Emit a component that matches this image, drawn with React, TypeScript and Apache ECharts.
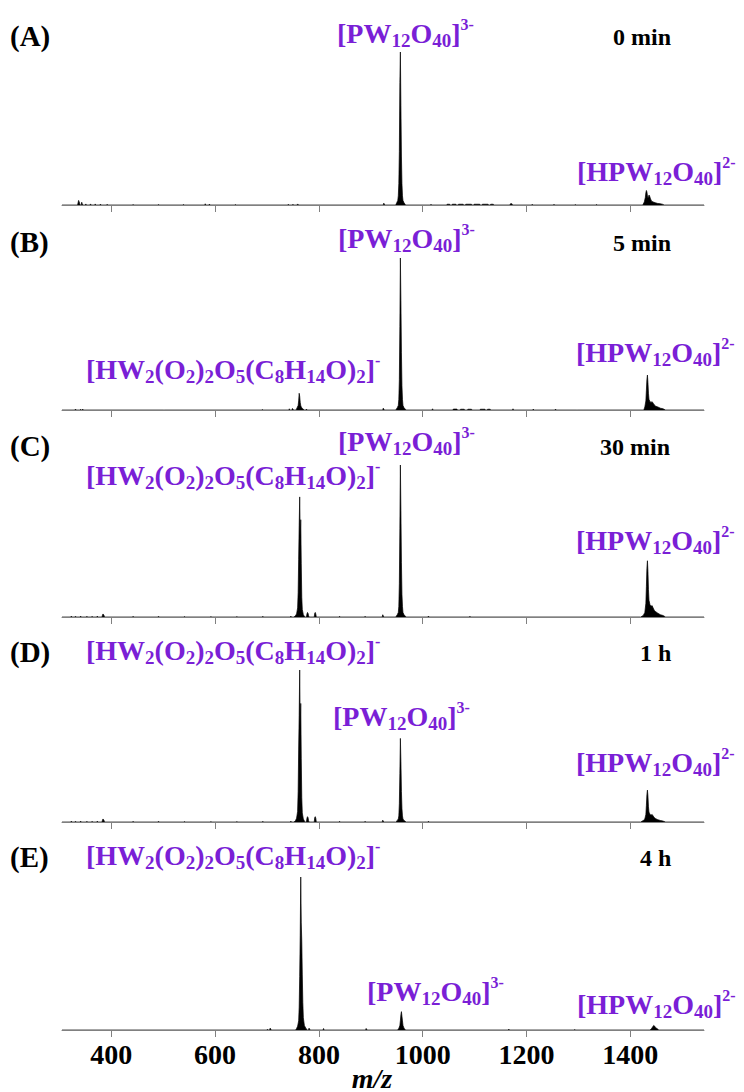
import React, { useEffect, useRef } from "react";
import * as echarts from "echarts";

const xMin = 305;
const xMax = 1542;
const tickValues = [400, 600, 800, 1000, 1200, 1400];

const panelLetters = ["(A)", "(B)", "(C)", "(D)", "(E)"];
const panelTimes = ["0 min", "5 min", "30 min", "1 h", "4 h"];

const specA: [number, number][] = [
  [305, 0],
  [335, 0], [336, 1.5], [337, 3], [338, 2.2], [339, 1], [340, 0],
  [342, 0], [343, 1.8], [344, 0.8], [345, 0],
  [350, 0], [351, 0.7], [352, 0],
  [359, 0], [360, 0.7], [361, 0],
  [368, 0], [369, 0.7], [370, 0],
  [378, 0], [379, 0.6], [380, 0],
  [391, 0], [392, 0.5], [393, 0],
  [441, 0], [442, 0.4], [443, 0],
  [490, 0], [491, 0.4], [492, 0],
  [538, 0], [539, 0.4], [540, 0],
  [580, 0], [581, 0.8], [582, 0], [588, 0], [589, 0.6], [590, 0],
  [638, 0], [639, 0.4], [640, 0],
  [740, 0], [741, 0.5], [742, 0], [749, 0], [750, 0.5], [751, 0], [758, 0], [759, 0.7], [760, 0.7], [761, 0],
  [924, 0], [925, 1.2], [926, 1.5], [927, 0],
  [948, 0], [950, 1.5], [952, 3], [953, 6], [954, 14], [955, 35], [956, 80], [957, 100], [958, 65], [959, 32], [960, 14], [961, 6], [962, 3], [964, 1.5], [967, 0],
  [1015, 0], [1016, 0.5], [1017, 0],
  [1046, 0], [1047, 0.5], [1052, 0.5], [1053, 0], [1056, 0], [1057, 0.5], [1064, 0.5], [1065, 0],
  [1068, 0], [1069, 0.5], [1078, 0.5], [1079, 0], [1082, 0], [1083, 0.5], [1094, 0.5], [1095, 0],
  [1098, 0], [1099, 0.5], [1110, 0.5], [1111, 0], [1114, 0], [1115, 0.5], [1126, 0.5], [1127, 0],
  [1130, 0], [1131, 0.5], [1136, 0.5], [1137, 0],
  [1168, 0], [1169, 0.8], [1172, 0.8], [1173, 0],
  [1210, 0], [1211, 0.5], [1212, 0],
  [1252, 0], [1253, 0.5], [1254, 0],
  [1293, 0], [1294, 0.4], [1295, 0],
  [1334, 0], [1335, 0.4], [1336, 0],
  [1424, 0], [1427, 2], [1429, 5], [1430, 8], [1431, 9.5], [1432, 8.5], [1433, 6], [1434, 4.5], [1435, 5], [1436, 6.5], [1437, 6], [1439, 4], [1441, 2.5], [1444, 2], [1448, 1.5], [1453, 1], [1458, 0.8], [1463, 0.4], [1465, 0],
  [1542, 0],
];

const specB: [number, number][] = [
  [305, 0],
  [330, 0], [331, 0.6], [332, 0], [340, 0], [341, 0.5], [342, 0],
  [344, 0], [345, 0.6], [346, 0],
  [500, 0], [501, 0.3], [502, 0],
  [690, 0], [691, 0.4], [692, 0],
  [742, 0], [743, 0.8], [744, 0], [748, 0], [749, 1], [750, 0.6], [751, 0],
  [756, 0], [758, 1.5], [760, 3], [761, 6], [762, 11], [763, 9], [764, 5], [765, 3], [766, 2], [768, 1], [770, 0.6], [771, 0],
  [775, 0], [776, 0.6], [777, 0],
  [923, 0], [924, 1.2], [925, 1.5], [926, 0],
  [948, 0], [951, 1.5], [953, 3], [954, 7], [955, 20], [956, 55], [957, 100], [958, 72], [959, 38], [960, 16], [961, 7], [962, 3], [964, 1.5], [968, 0],
  [1018, 0], [1019, 0.8], [1020, 0],
  [1058, 0], [1059, 0.6], [1066, 0.6], [1067, 0], [1072, 0], [1073, 0.5], [1080, 0.5], [1081, 0], [1086, 0], [1087, 0.5], [1094, 0.5], [1095, 0],
  [1110, 0], [1111, 0.5], [1120, 0.5], [1121, 0], [1124, 0], [1125, 0.5], [1130, 0.5], [1131, 0],
  [1173, 0], [1174, 0.8], [1175, 0],
  [1212, 0], [1213, 0.6], [1214, 0],
  [1255, 0], [1256, 0.6], [1257, 0],
  [1297, 0], [1298, 0.3], [1299, 0],
  [1426, 0], [1428, 2], [1430, 6], [1431, 13], [1432, 20], [1433, 23], [1434, 18], [1435, 11], [1436, 7], [1438, 5.5], [1440, 5], [1442, 5.5], [1444, 4.5], [1446, 3.5], [1449, 2.5], [1453, 2], [1458, 1.2], [1463, 0.8], [1468, 0],
  [1542, 0],
];

const specC: [number, number][] = [
  [305, 0],
  [322, 0], [323, 0.6], [324, 0], [330, 0], [331, 0.5], [332, 0], [340, 0], [341, 0.6], [342, 0], [352, 0], [353, 0.5], [354, 0], [362, 0], [363, 0.5], [364, 0], [372, 0], [373, 0.6], [374, 0],
  [382, 0], [383, 1.2], [384, 2], [385, 2.2], [386, 1], [387, 0],
  [441, 0], [442, 0.5], [443, 0], [490, 0], [491, 0.5], [492, 0], [540, 0], [541, 0.4], [542, 0], [591, 0], [592, 0.4], [593, 0], [641, 0], [642, 0.4], [643, 0], [691, 0], [692, 0.5], [693, 0],
  [745, 0], [746, 0.6], [747, 0],
  [752, 0], [755, 1], [757, 2], [759, 6], [760, 16], [761, 38], [762, 60], [763, 79], [764, 52], [765, 64], [766, 35], [767, 13], [768, 5], [770, 1.5], [773, 0],
  [776, 0], [777, 2], [778, 3], [779, 2.5], [780, 1], [781, 0],
  [791, 0], [792, 2.5], [793, 3], [794, 2], [795, 0],
  [839, 0], [840, 0.5], [841, 0],
  [888, 0], [889, 0.5], [890, 0],
  [922, 0], [923, 1.5], [924, 1.8], [925, 0],
  [948, 0], [951, 1.5], [953, 3], [954, 7], [955, 22], [956, 58], [957, 100], [958, 70], [959, 36], [960, 15], [961, 7], [962, 3], [964, 1.5], [968, 0],
  [1010, 0], [1011, 0.6], [1012, 0],
  [1090, 0], [1091, 0.5], [1092, 0],
  [1420, 0], [1425, 1], [1428, 3], [1430, 9], [1431, 20], [1432, 32], [1433, 37], [1434, 30], [1435, 18], [1436, 11], [1438, 8], [1440, 7], [1442, 7.5], [1444, 6], [1446, 4.5], [1449, 3.5], [1453, 2.5], [1458, 1.5], [1463, 1], [1468, 0],
  [1542, 0],
];

const specD: [number, number][] = [
  [305, 0],
  [322, 0], [323, 0.6], [324, 0], [330, 0], [331, 0.5], [332, 0], [340, 0], [341, 0.6], [342, 0], [352, 0], [353, 0.5], [354, 0], [362, 0], [363, 0.5], [364, 0], [372, 0], [373, 0.6], [374, 0],
  [382, 0], [383, 1.2], [384, 2], [385, 2.2], [386, 1], [387, 0],
  [441, 0], [442, 0.5], [443, 0], [490, 0], [491, 0.5], [492, 0], [540, 0], [541, 0.4], [542, 0], [591, 0], [592, 0.4], [593, 0], [641, 0], [642, 0.4], [643, 0], [691, 0], [692, 0.5], [693, 0],
  [745, 0], [746, 0.6], [747, 0],
  [752, 0], [755, 1], [757, 2.5], [759, 7], [760, 20], [761, 48], [762, 70], [763, 100], [764, 62], [765, 78], [766, 42], [767, 16], [768, 6], [770, 2], [773, 0],
  [776, 0], [777, 2.5], [778, 3.5], [779, 3], [780, 1], [781, 0],
  [791, 0], [792, 3], [793, 3.5], [794, 2.5], [795, 0],
  [839, 0], [840, 0.5], [841, 0],
  [888, 0], [889, 0.5], [890, 0],
  [922, 0], [923, 1.2], [924, 1.5], [925, 0],
  [948, 0], [951, 1], [953, 2], [954, 4], [955, 12], [956, 32], [957, 55], [958, 40], [959, 20], [960, 9], [961, 4], [962, 2], [964, 1], [968, 0],
  [1010, 0], [1011, 0.5], [1012, 0],
  [1420, 0], [1425, 1], [1428, 2], [1430, 5], [1431, 11], [1432, 18], [1433, 21], [1434, 17], [1435, 10], [1436, 6.5], [1438, 5], [1440, 4.5], [1442, 5], [1444, 4], [1446, 3], [1449, 2.2], [1453, 1.5], [1458, 1], [1463, 0.6], [1468, 0],
  [1542, 0],
];

const specE: [number, number][] = [
  [305, 0],
  [700, 0], [701, 0.5], [702, 0], [705, 0], [706, 1.2], [707, 0.8], [708, 0],
  [755, 0], [757, 1], [759, 2.5], [761, 6], [762, 15], [763, 35], [764, 62], [765, 100], [766, 70], [767, 58], [768, 36], [769, 18], [770, 8], [772, 3], [775, 1], [778, 0],
  [780, 0], [781, 1.2], [782, 1.5], [783, 0],
  [808, 0], [809, 1], [810, 0],
  [890, 0], [891, 1], [892, 1.2], [893, 0],
  [951, 0], [954, 1], [956, 3], [957, 6], [958, 10], [959, 12], [960, 9], [961, 6], [962, 3], [964, 1.2], [967, 0],
  [1165, 0], [1166, 0.6], [1167, 0],
  [1292, 0], [1293, 0.4], [1294, 0],
  [1438, 0], [1441, 1], [1443, 2], [1445, 3], [1447, 2.5], [1449, 1.5], [1452, 0.8], [1455, 0],
  [1542, 0],
];

const spectra = [specA, specB, specC, specD, specE];

// layout (pixels)
const gridTops = [52, 258, 465, 670, 877];
const gridBottoms = [205, 410, 617, 822, 1030];

const PURPLE = "#7a1fd6";
const SERIF = "Liberation Serif";

const PW_TEXT = "{m|[PW}{s|12}{m|O}{s|40}{m|]}{p|3-}";
const HPW_TEXT = "{m|[HPW}{s|12}{m|O}{s|40}{m|]}{p|2-}";
const HW_TEXT =
  "{m|[HW}{s|2}{m|(O}{s|2}{m|)}{s|2}{m|O}{s|5}{m|(C}{s|8}{m|H}{s|14}{m|O)}{s|2}{m|]}{p|-}";

const rich = {
  m: { fontSize: 28, fontWeight: "bold", fontFamily: SERIF, fill: PURPLE, color: PURPLE, lineHeight: 30 },
  s: { fontSize: 19, fontWeight: "bold", fontFamily: SERIF, fill: PURPLE, color: PURPLE, lineHeight: 34, verticalAlign: "bottom" },
  p: { fontSize: 16, fontWeight: "bold", fontFamily: SERIF, fill: PURPLE, color: PURPLE, lineHeight: 18, verticalAlign: "top" },
};

// [text, left x, center y]
const formulaLabels: [string, number, number][] = [
  [PW_TEXT, 337, 33],
  [HPW_TEXT, 577, 171],
  [PW_TEXT, 338, 238],
  [HW_TEXT, 86, 369],
  [HPW_TEXT, 576, 352],
  [PW_TEXT, 338, 441],
  [HW_TEXT, 86, 475],
  [HPW_TEXT, 576, 540],
  [HW_TEXT, 86, 650],
  [PW_TEXT, 333, 716],
  [HPW_TEXT, 576, 762],
  [HW_TEXT, 86, 855],
  [PW_TEXT, 367, 991],
  [HPW_TEXT, 577, 1004],
];

const letterY = [36, 242, 446, 652, 857];
const timeX = [613, 613, 600, 640, 640];

function buildOption() {
  const grid = spectra.map((_, i) => ({
    left: 62,
    right: 40,
    top: gridTops[i],
    height: gridBottoms[i] - gridTops[i],
  }));
  const xAxis = spectra.map((_, i) => ({
    type: "value",
    gridIndex: i,
    min: xMin,
    max: xMax,
    z: 5,
    axisLine: { show: true, lineStyle: { color: "#808080", width: 1 } },
    axisTick: { show: true, inside: false, length: 7, customValues: tickValues, lineStyle: { color: "#808080", width: 1 } },
    axisLabel: {
      show: i === 4,
      customValues: tickValues,
      formatter: (v: number) => String(v),
      fontFamily: SERIF,
      fontWeight: "bold",
      fontSize: 28,
      color: "#000",
      margin: 10,
    },
    splitLine: { show: false },
  }));
  const yAxis = spectra.map((_, i) => ({
    type: "value",
    gridIndex: i,
    min: 0,
    max: 100,
    show: false,
  }));
  const series = spectra.map((d, i) => ({
    type: "line",
    xAxisIndex: i,
    yAxisIndex: i,
    data: d,
    symbol: "none",
    showSymbol: false,
    silent: true,
    lineStyle: { color: "#000", width: 0.7 },
    areaStyle: { color: "#000", opacity: 1 },
    z: 2,
  }));

  const graphic: any[] = [];
  panelLetters.forEach((t, i) => {
    graphic.push({
      type: "text",
      x: 10,
      y: letterY[i],
      style: {
        text: t,
        fill: "#000",
        fontSize: 29,
        fontWeight: "bold",
        fontFamily: SERIF,
        verticalAlign: "middle",
        textVerticalAlign: "middle",
      },
    });
    graphic.push({
      type: "text",
      x: timeX[i],
      y: letterY[i] + 1,
      style: {
        text: panelTimes[i],
        fill: "#000",
        fontSize: 24,
        fontWeight: "bold",
        fontFamily: SERIF,
        verticalAlign: "middle",
        textVerticalAlign: "middle",
      },
    });
  });
  formulaLabels.forEach(([t, x, y]) => {
    graphic.push({
      type: "text",
      x,
      y,
      style: {
        text: t,
        rich,
        fill: PURPLE,
        fontSize: 28,
        fontWeight: "bold",
        fontFamily: SERIF,
        verticalAlign: "middle",
        textVerticalAlign: "middle",
        align: "left",
        textAlign: "left",
      },
    });
  });
  graphic.push({
    type: "text",
    x: 372,
    y: 1078,
    style: {
      text: "m/z",
      fill: "#000",
      fontSize: 28,
      fontStyle: "italic",
      fontWeight: "bold",
      fontFamily: SERIF,
      align: "center",
      textAlign: "center",
      verticalAlign: "middle",
      textVerticalAlign: "middle",
    },
  });

  return {
    animation: false,
    backgroundColor: "#fff",
    grid,
    xAxis,
    yAxis,
    series,
    graphic,
  };
}

export default function App() {
  const ref = useRef<HTMLDivElement>(null);
  useEffect(() => {
    if (!ref.current) return;
    const chart = echarts.init(ref.current, null, { renderer: "svg" });
    chart.setOption(buildOption() as any);
    return () => chart.dispose();
  }, []);
  return (
    <div
      ref={ref}
      style={{ position: "fixed", left: 0, top: 0, width: 744, height: 1092, background: "#fff" }}
    />
  );
}
